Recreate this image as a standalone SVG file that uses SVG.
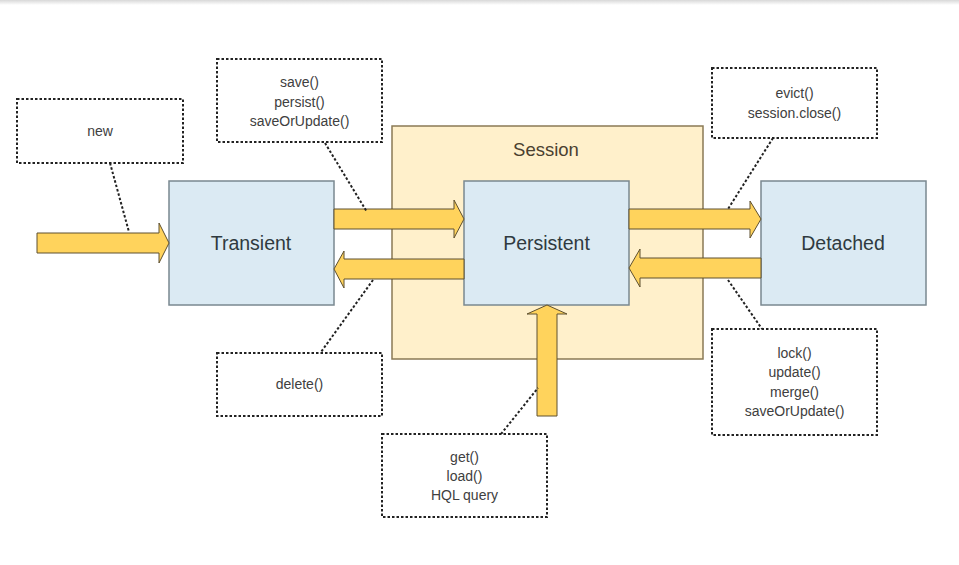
<svg xmlns="http://www.w3.org/2000/svg" width="959" height="565" viewBox="0 0 959 565">
<defs>
<linearGradient id="topShade" x1="0" y1="0" x2="0" y2="1">
<stop offset="0" stop-color="#d8d8d8"/>
<stop offset="1" stop-color="#ffffff"/>
</linearGradient>
</defs>
<style>
.state{fill:#dbeaf3;stroke:#7a8890;stroke-width:1.5}
.session{fill:#fff0cb;stroke:#8a7a55;stroke-width:1.5}
.arrow{fill:#ffd35c;stroke:#5e5030;stroke-width:1}
.note{fill:#ffffff;stroke:#222;stroke-width:2;stroke-dasharray:2.5 2}
.lead{fill:none;stroke:#222;stroke-width:2;stroke-dasharray:2.5 2}
.lbl{font-family:"Liberation Sans",Arial,sans-serif;font-size:14px;fill:#404040;text-anchor:middle}
.big{font-family:"Liberation Sans",Arial,sans-serif;font-size:19.5px;fill:#2f3a40;text-anchor:middle}
</style>
<rect x="0" y="0" width="959" height="565" fill="#ffffff"/>
<rect x="0" y="0" width="959" height="5" fill="url(#topShade)"/>

<g id="session">
<rect class="session" x="392" y="126" width="311" height="233"/>
<text class="big" x="546" y="156" style="font-size:18.5px;fill:#4a4030">Session</text>
</g>

<g id="transient">
<rect class="state" x="169" y="181" width="165" height="124"/>
<text class="big" x="251" y="250">Transient</text>
</g>

<g id="persistent">
<rect class="state" x="464" y="181" width="165" height="124"/>
<text class="big" x="546.5" y="250">Persistent</text>
</g>

<g id="detached">
<rect class="state" x="761" y="181" width="165" height="124"/>
<text class="big" x="843" y="250">Detached</text>
</g>

<g id="connectors">
<polygon class="arrow" points="37,233 159,233 159,223 169,243 159,263 159,253 37,253"/>
<polygon class="arrow" points="334,209 454,209 454,200 464,219 454,238 454,229 334,229"/>
<polygon class="arrow" points="464,259 344,259 344,251 334,269 344,288 344,279 464,279"/>
<polygon class="arrow" points="629,209 750,209 750,201 761,219 750,238 750,229 629,229"/>
<polygon class="arrow" points="761,258 640,258 640,249 629,268 640,287 640,278 761,278"/>
<polygon class="arrow" points="537,416 537,314 527,314 547,305 567,314 557,314 557,416"/>
<line class="lead" x1="110" y1="163" x2="129" y2="232"/>
<line class="lead" x1="325" y1="143" x2="367" y2="212"/>
<line class="lead" x1="773" y1="138" x2="728" y2="209"/>
<line class="lead" x1="373" y1="280" x2="321" y2="352"/>
<line class="lead" x1="728" y1="280" x2="762" y2="329"/>
<line class="lead" x1="501" y1="434" x2="538" y2="388"/>
</g>

<g id="note-new">
<rect class="note" x="17" y="99" width="166" height="64"/>
<text class="lbl" x="100" y="136">new</text>
</g>

<g id="note-save">
<rect class="note" x="217" y="59" width="165" height="83"/>
<text class="lbl" x="299.5" y="87">save()</text>
<text class="lbl" x="299.5" y="107">persist()</text>
<text class="lbl" x="299.5" y="126">saveOrUpdate()</text>
</g>

<g id="note-evict">
<rect class="note" x="712" y="68" width="165" height="70"/>
<text class="lbl" x="794.5" y="98">evict()</text>
<text class="lbl" x="794.5" y="118">session.close()</text>
</g>

<g id="note-delete">
<rect class="note" x="217" y="353" width="165" height="63"/>
<text class="lbl" x="299.5" y="389">delete()</text>
</g>

<g id="note-get">
<rect class="note" x="382" y="434" width="165" height="83"/>
<text class="lbl" x="464.5" y="462">get()</text>
<text class="lbl" x="464.5" y="481">load()</text>
<text class="lbl" x="464.5" y="500">HQL query</text>
</g>

<g id="note-lock">
<rect class="note" x="712" y="329" width="165" height="106"/>
<text class="lbl" x="794.5" y="358">lock()</text>
<text class="lbl" x="794.5" y="377">update()</text>
<text class="lbl" x="794.5" y="397">merge()</text>
<text class="lbl" x="794.5" y="416">saveOrUpdate()</text>
</g>
</svg>
